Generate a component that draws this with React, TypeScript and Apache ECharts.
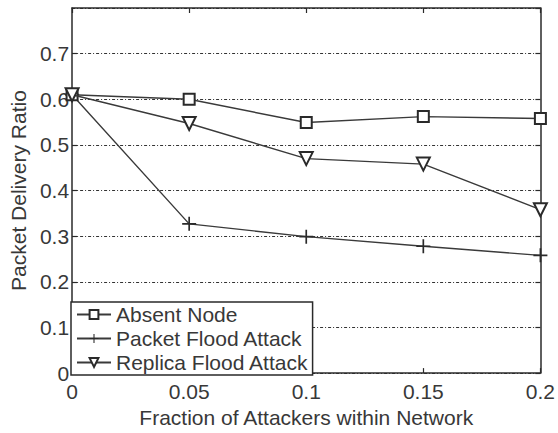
import React, { useEffect, useRef } from "react";
import * as echarts from "echarts";

const xValues = [0, 0.05, 0.1, 0.15, 0.2];
const absentNode = [0.61, 0.6, 0.549, 0.562, 0.558];
const packetFlood = [0.61, 0.327, 0.299, 0.278, 0.258];
const replicaFlood = [0.61, 0.547, 0.47, 0.458, 0.358];
const seriesNames = ["Absent Node", "Packet Flood Attack", "Replica Flood Attack"];
const xTickLabels = ["0", "0.05", "0.1", "0.15", "0.2"];
const yTickLabels = ["0", "0.1", "0.2", "0.3", "0.4", "0.5", "0.6", "0.7"];

const PLUS = "path://M0,4.4H4.4V0H5.6V4.4H10V5.6H5.6V10H4.4V5.6H0Z";
const FONT = "Liberation Sans, Arial, Helvetica, sans-serif";
const INK = "#2a2a2a";
const TEXT = "#383838";

export default function App() {
  const ref = useRef<HTMLDivElement>(null);
  useEffect(() => {
    if (!ref.current) return;
    const chart = echarts.init(ref.current, undefined, { renderer: "svg" });
    const pair = (ys: number[]) => xValues.map((x, i) => [x, ys[i]]);
    const lineStyle = { color: "#3a3a3a", width: 1.4 };
    const axisCommon = {
      min: 0,
      axisLine: { show: true, onZero: false, lineStyle: { color: INK, width: 1.5 } },
      axisTick: { show: true, inside: true, length: 5, lineStyle: { color: INK, width: 1.2 } },
    };
    chart.setOption({
      animation: false,
      backgroundColor: "#fff",
      textStyle: { fontFamily: FONT },
      grid: { left: 66, right: 16, top: 8, bottom: 50 },
      legend: {
        orient: "vertical",
        left: 71,
        top: 302,
        data: seriesNames,
        backgroundColor: "#fff",
        borderColor: INK,
        borderWidth: 1.5,
        borderRadius: 0,
        padding: [2, 4, 2, 5],
        itemGap: 3,
        itemWidth: 34,
        itemHeight: 11,
        textStyle: { fontSize: 21, color: TEXT, fontFamily: FONT },
      },
      xAxis: [
        {
          ...axisCommon,
          type: "value",
          max: 0.2,
          interval: 0.05,
          position: "bottom",
          name: "Fraction of Attackers within Network",
          nameLocation: "middle",
          nameGap: 27,
          nameTextStyle: { fontSize: 21, color: TEXT, fontFamily: FONT },
          axisLabel: {
            show: true,
            fontSize: 21,
            color: TEXT,
            margin: 8,
            formatter: (v: number) => xTickLabels[Math.round(v / 0.05)] ?? "",
          },
          splitLine: { show: false },
        },
        {
          ...axisCommon,
          type: "value",
          max: 0.2,
          interval: 0.05,
          position: "top",
          axisLabel: { show: false },
          splitLine: { show: false },
        },
      ],
      yAxis: [
        {
          ...axisCommon,
          type: "value",
          max: 0.8,
          interval: 0.1,
          position: "left",
          name: "Packet Delivery Ratio",
          nameLocation: "middle",
          nameGap: 42,
          nameTextStyle: { fontSize: 21, color: TEXT, fontFamily: FONT },
          axisLabel: {
            show: true,
            fontSize: 21,
            color: TEXT,
            margin: 3,
            showMaxLabel: false,
            formatter: (v: number) => yTickLabels[Math.round(v / 0.1)] ?? "",
          },
          splitLine: {
            show: true,
            lineStyle: { color: "#333", width: 1, type: [3, 2, 1, 2] },
          },
        },
        {
          ...axisCommon,
          type: "value",
          max: 0.8,
          interval: 0.1,
          position: "right",
          axisLabel: { show: false },
          splitLine: { show: false },
        },
      ],
      series: [
        {
          name: seriesNames[0],
          type: "line",
          data: pair(absentNode),
          symbol: "emptyRect",
          symbolSize: 11,
          lineStyle,
          itemStyle: { color: INK, borderColor: INK, borderWidth: 1.4 },
          z: 3,
        },
        {
          name: seriesNames[1],
          type: "line",
          data: pair(packetFlood),
          symbol: PLUS,
          symbolSize: 14,
          lineStyle,
          itemStyle: { color: INK, borderWidth: 0 },
          z: 2,
        },
        {
          name: seriesNames[2],
          type: "line",
          data: pair(replicaFlood),
          symbol: "emptyTriangle",
          symbolRotate: 180,
          symbolSize: 13,
          lineStyle,
          itemStyle: { color: INK, borderColor: INK, borderWidth: 1.4 },
          z: 4,
        },
      ],
    });
    return () => chart.dispose();
  }, []);
  return (
    <div
      ref={ref}
      style={{ position: "fixed", left: 0, top: 0, width: 558, height: 433 }}
    />
  );
}
